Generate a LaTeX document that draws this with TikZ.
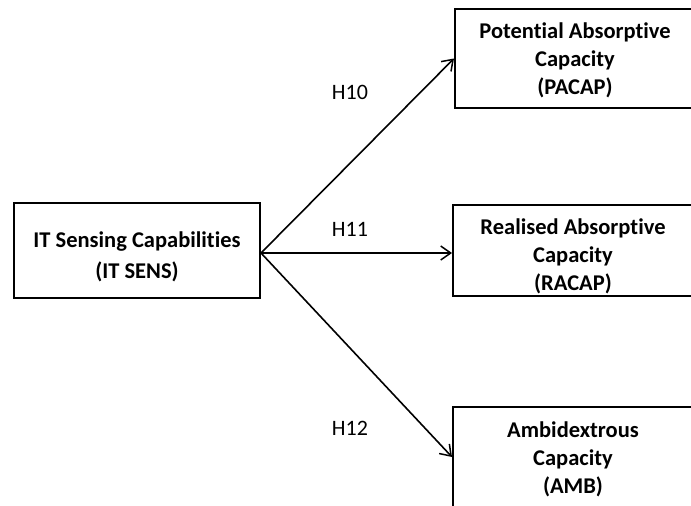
\documentclass[tikz,border=0pt]{standalone}
\usepackage{fontspec}
\setmainfont{Carlito}[Ligatures=NoCommon]
\usetikzlibrary{arrows.meta}
\begin{document}
\begin{tikzpicture}[x=1pt,y=-1pt,
  construct/.style={draw=black,line width=2pt,inner sep=0pt},
  construct text/.style={align=center,inner sep=0pt,
    font=\fontsize{22.5}{28}\selectfont\bfseries},
  link/.style={line width=1.6pt,-{Straight Barb[length=10pt,width=14pt,line width=1.5pt]}},
  hyp/.style={font=\fontsize{22}{26}\selectfont}]
\useasboundingbox (0,0) rectangle (691,506);
\clip (0,0) rectangle (691,506);

% constructs: framed boxes, each with its text set a little below the centre
\node[construct,minimum width=246pt,minimum height=95pt,
  label={[construct text,name=sens-text,yshift=-6.5pt,
    font=\fontsize{22.5}{31}\selectfont\bfseries]center:IT Sensing Capabilities\\(IT SENS)}]
  (sens) at (137,250.5) {};
\node[construct,minimum width=240pt,minimum height=99pt,
  label={[construct text,name=pacap-text,yshift=-1.5pt]center:Potential Absorptive\\Capacity\\(PACAP)}]
  (pacap) at (575,58.5) {};
\node[construct,minimum width=240pt,minimum height=91pt,
  label={[construct text,name=racap-text,yshift=-6pt]center:Realised Absorptive\\Capacity\\(RACAP)}]
  (racap) at (573,250.5) {};
\node[construct,minimum width=240pt,minimum height=100pt,
  label={[construct text,name=amb-text,yshift=-2pt]center:Ambidextrous\\Capacity\\(AMB)}]
  (amb) at (573,457) {};

% hypothesised paths
\coordinate (src) at ([yshift=-2.5pt]sens.east);
\draw[link] (src) -- (pacap.west);
\draw[link] (src) -- (racap.west |- src);
\draw[link] (src) -- (amb.west);

% path labels
\node[hyp] (h10) at (350,92) {H10};
\node[hyp] (h11) at (350,229) {H11};
\node[hyp] (h12) at (350,428) {H12};
\end{tikzpicture}
\end{document}
